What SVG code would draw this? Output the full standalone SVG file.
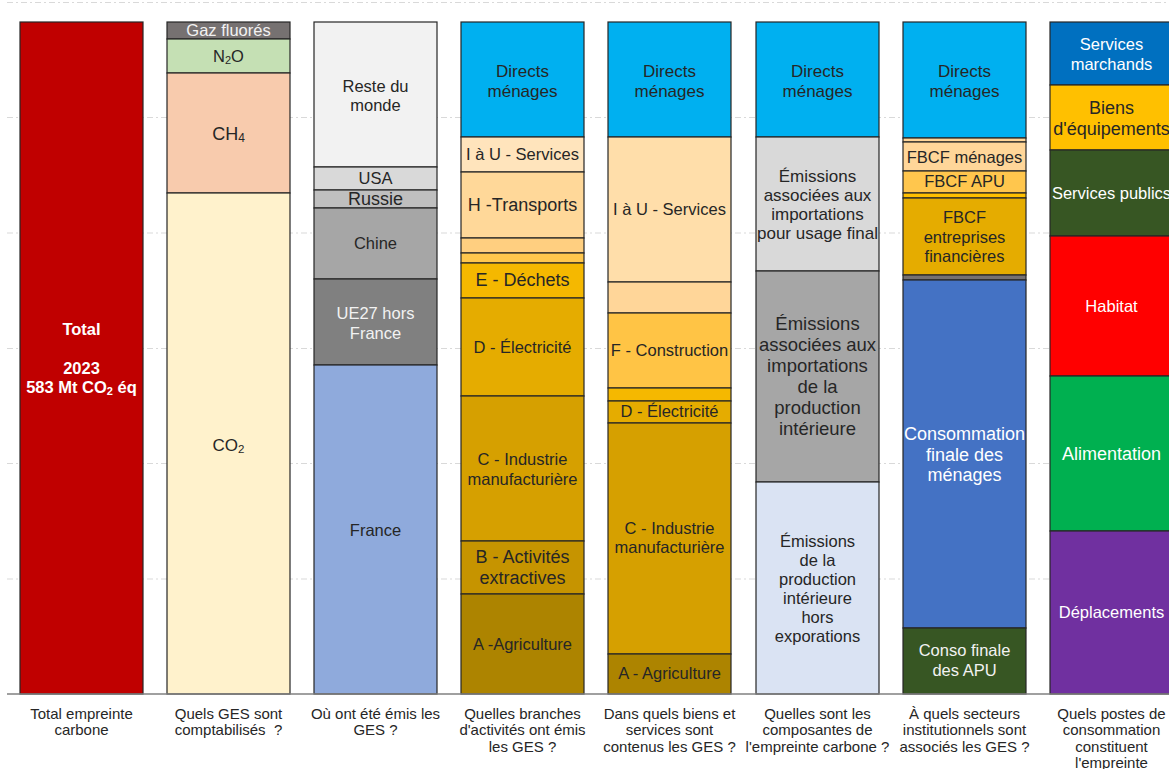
<svg xmlns="http://www.w3.org/2000/svg" width="1169" height="769" viewBox="0 0 1169 769">
<style>
.s{stroke:#262626;stroke-width:1.2}
.t{font-family:"Liberation Sans",Arial,sans-serif;font-size:16.5px;fill:#262626;text-anchor:middle;dominant-baseline:central}
.w{fill:#ffffff}
.g{fill:#f2f2f2}
.l{font-size:18px}
.m{font-size:17px}
.b{font-weight:bold;font-size:16.5px}
.ax{font-size:15px;fill:#262626}
.grid{stroke:#d9d9d9;stroke-width:1;stroke-dasharray:6 3 2 3}
</style>
<rect x="0" y="0" width="1169" height="769" fill="#ffffff"/>
<g id="gridlines">
<line class="grid" x1="7" y1="2.5" x2="1169" y2="2.5"/>
<line class="grid" x1="7" y1="117.5" x2="1169" y2="117.5"/>
<line class="grid" x1="7" y1="233" x2="1169" y2="233"/>
<line class="grid" x1="7" y1="348.5" x2="1169" y2="348.5"/>
<line class="grid" x1="7" y1="463.5" x2="1169" y2="463.5"/>
<line class="grid" x1="7" y1="579" x2="1169" y2="579"/>
</g>

<g id="col1">
<g id="total"><rect class="s" x="20" y="22" width="123" height="672" fill="#c00000"/>
<text class="t w b" x="81.5" y="329">Total</text>
<text class="t w b" x="81.5" y="368">2023</text>
<text class="t w b" x="81.5" y="387">583 Mt CO<tspan font-size="11" dy="4">2</tspan><tspan dy="-4"> éq</tspan></text></g>
</g>

<g id="col2">
<g id="gaz-fluores"><rect class="s" x="167" y="22" width="123" height="17" fill="#767171"/><text class="t g" x="228.5" y="30">Gaz fluorés</text></g>
<g id="n2o"><rect class="s" x="167" y="39" width="123" height="34" fill="#c5e0b4"/><text class="t" x="228.5" y="56">N<tspan font-size="11" dy="4">2</tspan><tspan dy="-4">O</tspan></text></g>
<g id="ch4"><rect class="s" x="167" y="73" width="123" height="120" fill="#f8cbad"/><text class="t l" x="228.5" y="134">CH<tspan font-size="12" dy="4">4</tspan></text></g>
<g id="co2"><rect class="s" x="167" y="193" width="123" height="501" fill="#fff2cc"/><text class="t m" x="228.5" y="445">CO<tspan font-size="11.5" dy="4">2</tspan></text></g>
</g>

<g id="col3">
<g id="reste-monde"><rect class="s" x="314" y="22" width="123" height="145" fill="#f2f2f2"/><text class="t" x="375.5" y="86">Reste du</text><text class="t" x="375.5" y="105">monde</text></g>
<g id="usa"><rect class="s" x="314" y="167" width="123" height="23" fill="#d9d9d9"/><text class="t" x="375.5" y="178">USA</text></g>
<g id="russie"><rect class="s" x="314" y="190" width="123" height="18" fill="#bfbfbf"/><text class="t l" x="375.5" y="199">Russie</text></g>
<g id="chine"><rect class="s" x="314" y="208" width="123" height="71" fill="#a6a6a6"/><text class="t" x="375.5" y="243">Chine</text></g>
<g id="ue27"><rect class="s" x="314" y="279" width="123" height="86" fill="#808080"/><text class="t g" x="375.5" y="313">UE27 hors</text><text class="t g" x="375.5" y="333">France</text></g>
<g id="france"><rect class="s" x="314" y="365" width="123" height="329" fill="#8faadc"/><text class="t" x="375.5" y="530">France</text></g>
</g>

<g id="col4">
<g id="c4-directs"><rect class="s" x="461" y="22" width="123" height="115" fill="#00b0f0"/><text class="t m" x="522.5" y="71">Directs</text><text class="t m" x="522.5" y="91">ménages</text></g>
<g id="c4-services"><rect class="s" x="461" y="137" width="123" height="35" fill="#ffe4bc"/><text class="t" x="522.5" y="154">I à U - Services</text></g>
<g id="c4-transports"><rect class="s" x="461" y="172" width="123" height="66" fill="#ffd899"/><text class="t l" x="522.5" y="205">H -Transports</text></g>
<g id="c4-thin1"><rect class="s" x="461" y="238" width="123" height="15" fill="#ffcf80"/></g>
<g id="c4-thin2"><rect class="s" x="461" y="253" width="123" height="10" fill="#ffc74d"/></g>
<g id="c4-dechets"><rect class="s" x="461" y="263" width="123" height="35" fill="#f5b800"/><text class="t l" x="522.5" y="280">E - Déchets</text></g>
<g id="c4-electricite"><rect class="s" x="461" y="298" width="123" height="98" fill="#e5ac00"/><text class="t" x="522.5" y="347">D - Électricité</text></g>
<g id="c4-industrie"><rect class="s" x="461" y="396" width="123" height="145" fill="#d6a000"/><text class="t" x="522.5" y="459">C - Industrie</text><text class="t" x="522.5" y="479">manufacturière</text></g>
<g id="c4-extractives"><rect class="s" x="461" y="541" width="123" height="53" fill="#c69400"/><text class="t l" x="522.5" y="557">B - Activités</text><text class="t l" x="522.5" y="578">extractives</text></g>
<g id="c4-agriculture"><rect class="s" x="461" y="594" width="123" height="100" fill="#ad8400"/><text class="t" x="522.5" y="644">A -Agriculture</text></g>
</g>

<g id="col5">
<g id="c5-directs"><rect class="s" x="608" y="22" width="123" height="115" fill="#00b0f0"/><text class="t m" x="669.5" y="71">Directs</text><text class="t m" x="669.5" y="91">ménages</text></g>
<g id="c5-services"><rect class="s" x="608" y="137" width="123" height="145" fill="#ffdeaa"/><text class="t" x="669.5" y="209">I à U - Services</text></g>
<g id="c5-thin1"><rect class="s" x="608" y="282" width="123" height="31" fill="#ffd699"/></g>
<g id="c5-construction"><rect class="s" x="608" y="313" width="123" height="75" fill="#ffc445" stroke-width="1.8"/><text class="t" x="669.5" y="350">F - Construction</text></g>
<g id="c5-thin2"><rect class="s" x="608" y="388" width="123" height="13" fill="#f5b800"/></g>
<g id="c5-electricite"><rect class="s" x="608" y="401" width="123" height="22" fill="#e5ac00"/><text class="t" x="669.5" y="411">D - Électricité</text></g>
<g id="c5-industrie"><rect class="s" x="608" y="423" width="123" height="231" fill="#d6a000"/><text class="t" x="669.5" y="528">C - Industrie</text><text class="t" x="669.5" y="547">manufacturière</text></g>
<g id="c5-agriculture"><rect class="s" x="608" y="654" width="123" height="40" fill="#ad8400"/><text class="t" x="669.5" y="673">A - Agriculture</text></g>
</g>

<g id="col6">
<g id="c6-directs"><rect class="s" x="756" y="22" width="123" height="115" fill="#00b0f0"/><text class="t m" x="817.5" y="71">Directs</text><text class="t m" x="817.5" y="91">ménages</text></g>
<g id="c6-import-final"><rect class="s" x="756" y="137" width="123" height="134" fill="#d9d9d9"/>
<text class="t m" x="817.5" y="176">Émissions</text><text class="t m" x="817.5" y="195">associées aux</text><text class="t m" x="817.5" y="214">importations</text><text class="t m" x="817.5" y="233">pour usage final</text></g>
<g id="c6-import-prod"><rect class="s" x="756" y="271" width="123" height="211" fill="#a6a6a6"/>
<text class="t" style="font-size:18.5px" x="817.5" y="323">Émissions</text><text class="t" style="font-size:18.5px" x="817.5" y="344">associées aux</text><text class="t" style="font-size:18.5px" x="817.5" y="365">importations</text><text class="t" style="font-size:18.5px" x="817.5" y="386">de la</text><text class="t" style="font-size:18.5px" x="817.5" y="407">production</text><text class="t" style="font-size:18.5px" x="817.5" y="428">intérieure</text></g>
<g id="c6-interieure"><rect class="s" x="756" y="482" width="123" height="212" fill="#dae3f3"/>
<text class="t" x="817.5" y="541">Émissions</text><text class="t" x="817.5" y="560">de la</text><text class="t" x="817.5" y="579">production</text><text class="t" x="817.5" y="598">intérieure</text><text class="t" x="817.5" y="617">hors</text><text class="t" x="817.5" y="636">exporations</text></g>
</g>

<g id="col7">
<g id="c7-directs"><rect class="s" x="903" y="22" width="123" height="116" fill="#00b0f0"/><text class="t m" x="964.5" y="71">Directs</text><text class="t m" x="964.5" y="91">ménages</text></g>
<g id="c7-thin1"><rect class="s" x="903" y="138" width="123" height="4" fill="#ffd699"/></g>
<g id="c7-fbcf-menages"><rect class="s" x="903" y="142" width="123" height="29" fill="#ffd699"/><text class="t" x="964.5" y="157">FBCF ménages</text></g>
<g id="c7-fbcf-apu"><rect class="s" x="903" y="171" width="123" height="22" fill="#ffc64d"/><text class="t" x="964.5" y="181">FBCF APU</text></g>
<g id="c7-thin2"><rect class="s" x="903" y="193" width="123" height="5" fill="#ffc000"/></g>
<g id="c7-fbcf-entreprises"><rect class="s" x="903" y="198" width="123" height="77" fill="#e5ac00"/><text class="t" x="964.5" y="217">FBCF</text><text class="t" x="964.5" y="237">entreprises</text><text class="t" x="964.5" y="256">financières</text></g>
<g id="c7-thin3"><rect class="s" x="903" y="275" width="123" height="5" fill="#767171"/></g>
<g id="c7-conso-menages"><rect class="s" x="903" y="280" width="123" height="348" fill="#4472c4"/><text class="t w l" x="964.5" y="434">Consommation</text><text class="t w l" x="964.5" y="455">finale des</text><text class="t w l" x="964.5" y="475">ménages</text></g>
<g id="c7-conso-apu"><rect class="s" x="903" y="628" width="123" height="66" fill="#375623"/><text class="t g" x="964.5" y="650">Conso finale</text><text class="t g" x="964.5" y="670">des APU</text></g>
</g>

<g id="col8">
<g id="c8-services-marchands"><rect class="s" x="1050" y="22" width="125" height="63" fill="#0070c0"/><text class="t w" x="1111.5" y="44">Services</text><text class="t w" x="1111.5" y="64">marchands</text></g>
<g id="c8-biens"><rect class="s" x="1050" y="85" width="125" height="65" fill="#ffc000"/><text class="t l" x="1111.5" y="108">Biens</text><text class="t l" x="1111.5" y="129">d'équipements</text></g>
<g id="c8-services-publics"><rect class="s" x="1050" y="150" width="125" height="86" fill="#375623"/><text class="t w" x="1111.5" y="193">Services publics</text></g>
<g id="c8-habitat"><rect class="s" x="1050" y="236" width="125" height="140" fill="#ff0000"/><text class="t w" x="1111.5" y="306">Habitat</text></g>
<g id="c8-alimentation"><rect class="s" x="1050" y="376" width="125" height="155" fill="#00b050"/><text class="t w l" x="1111.5" y="454">Alimentation</text></g>
<g id="c8-deplacements"><rect class="s" x="1050" y="531" width="125" height="163" fill="#7030a0"/><text class="t w" x="1111.5" y="612">Déplacements</text></g>
</g>

<g id="axis">
<line x1="7" y1="694" x2="1169" y2="694" stroke="#808080" stroke-width="1.3"/>
</g>

<g id="axis-labels">
<text class="t ax" x="81.5" y="713">Total empreinte</text><text class="t ax" x="81.5" y="729.5">carbone</text>
<text class="t ax" x="228.5" y="713">Quels GES sont</text><text class="t ax" x="228.5" y="729.5" xml:space="preserve">comptabilisés  ?</text>
<text class="t ax" x="375.5" y="713">Où ont été émis les</text><text class="t ax" x="375.5" y="729.5">GES ?</text>
<text class="t ax" x="522.5" y="713">Quelles branches</text><text class="t ax" x="522.5" y="729.5">d'activités ont émis</text><text class="t ax" x="522.5" y="746">les GES ?</text>
<text class="t ax" x="669.5" y="713">Dans quels biens et</text><text class="t ax" x="669.5" y="729.5">services sont</text><text class="t ax" x="669.5" y="746">contenus les GES ?</text>
<text class="t ax" x="817.5" y="713">Quelles sont les</text><text class="t ax" x="817.5" y="729.5">composantes de</text><text class="t ax" x="817.5" y="746">l'empreinte carbone ?</text>
<text class="t ax" x="964.5" y="713">À quels secteurs</text><text class="t ax" x="964.5" y="729.5">institutionnels sont</text><text class="t ax" x="964.5" y="746">associés les GES ?</text>
<text class="t ax" x="1111.5" y="713">Quels postes de</text><text class="t ax" x="1111.5" y="729.5">consommation</text><text class="t ax" x="1111.5" y="746">constituent</text><text class="t ax" x="1111.5" y="762">l'empreinte</text>
</g>
</svg>
